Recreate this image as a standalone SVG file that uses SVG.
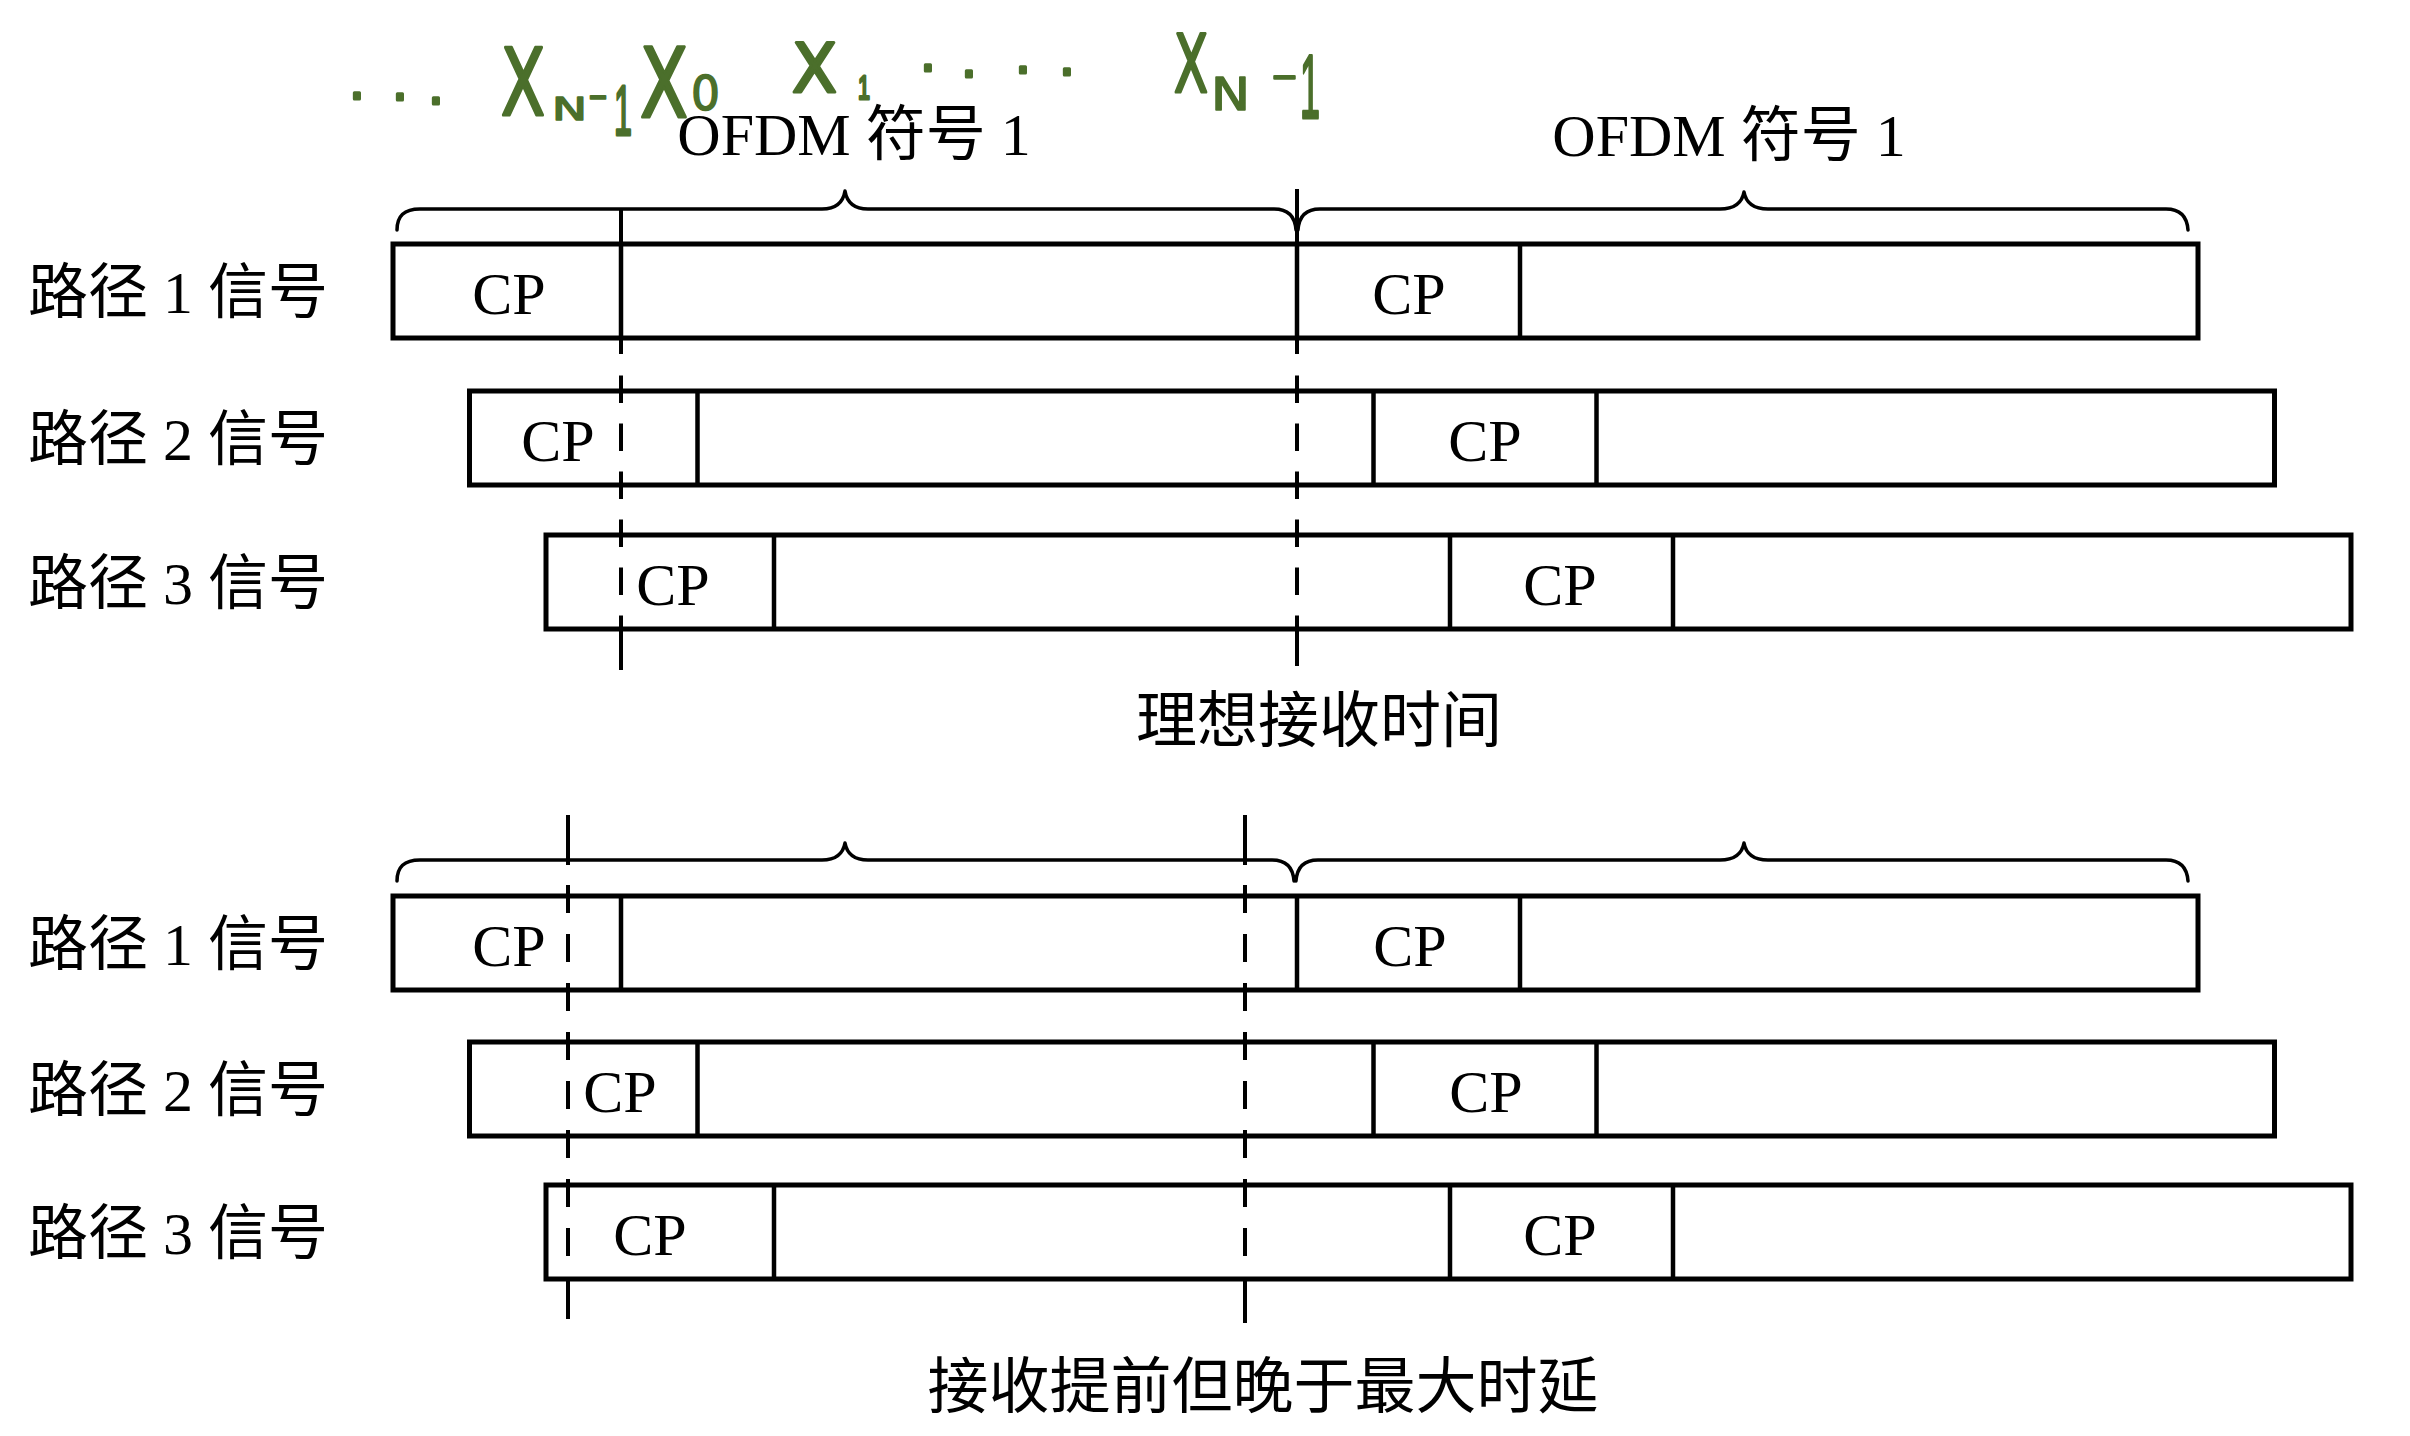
<svg xmlns="http://www.w3.org/2000/svg" width="2410" height="1436" viewBox="0 0 2410 1436">
<style>
.box{fill:none;stroke:#000;stroke-width:5}
.dv{stroke:#000;stroke-width:4.5}
.brace{fill:none;stroke:#000;stroke-width:3.5;stroke-linejoin:round;stroke-linecap:round}
.vl{stroke:#000;stroke-width:4}
.dsh{stroke:#000;stroke-width:4;stroke-dasharray:27.5 20.5}
.dsh2{stroke:#000;stroke-width:4;stroke-dasharray:28 21}
.lbl{font-family:"Liberation Serif","Noto Sans CJK SC",serif;font-size:60px;fill:#000}
.cp{font-family:"Liberation Serif",serif;font-size:60px;text-anchor:middle;fill:#000}
.cap{font-family:"Noto Sans CJK SC",sans-serif;font-size:61px;text-anchor:middle;fill:#000}
.hw{font-family:"DejaVu Sans",sans-serif;fill:#4b6f2b;stroke:#4b6f2b;stroke-width:3;stroke-linejoin:round}
.sm{stroke-width:1.5}
.one{font-family:"Liberation Sans",sans-serif}
</style>
<rect width="2410" height="1436" fill="#fff"/>

<g id="annotation">
<text class="hw" font-size="50"><tspan x="349 392 428" y="99 100 104">...</tspan><tspan x="501" y="115" font-size="92" textLength="44" lengthAdjust="spacingAndGlyphs">X</tspan><tspan class="sm" x="552" y="120" font-size="32" textLength="35" lengthAdjust="spacingAndGlyphs">N</tspan><tspan class="sm" x="588" y="109" font-size="40" textLength="20" lengthAdjust="spacingAndGlyphs">-</tspan><tspan class="one" x="614" y="135" font-size="70" textLength="18" lengthAdjust="spacingAndGlyphs">1</tspan><tspan x="640" y="117" font-size="96" textLength="48" lengthAdjust="spacingAndGlyphs">X</tspan><tspan class="sm" x="691" y="110" font-size="48" textLength="29" lengthAdjust="spacingAndGlyphs">0</tspan><tspan x="792" y="92" font-size="68" textLength="45" lengthAdjust="spacingAndGlyphs">X</tspan><tspan class="one" x="858" y="99" font-size="34" textLength="12" lengthAdjust="spacingAndGlyphs">1</tspan><tspan x="920 961 1015 1059" y="71 77 73 75">....</tspan><tspan x="1174" y="92" font-size="81" textLength="34" lengthAdjust="spacingAndGlyphs">X</tspan><tspan class="sm" x="1211" y="110" font-size="45" textLength="39" lengthAdjust="spacingAndGlyphs">N</tspan><tspan class="sm" x="1271" y="89" font-size="40" textLength="27" lengthAdjust="spacingAndGlyphs">-</tspan><tspan class="one" x="1300" y="118" font-size="90" textLength="20" lengthAdjust="spacingAndGlyphs">1</tspan></text>
</g>

<g id="top-symbol-labels">
<text class="lbl" x="854" y="155" text-anchor="middle">OFDM 符号 1</text>
<text class="lbl" x="1729" y="156" text-anchor="middle">OFDM 符号 1</text>
</g>

<g id="top-braces">
<path class="brace" d="M397,230 C397,216 404,209 420,209 L822,209 C836,209 843,203 845,191 C847,203 854,209 868,209 L1274,209 C1288,209 1295,216 1296,230"/>
<path class="brace" d="M1298,230 C1299,216 1306,209 1320,209 L1720,209 C1735,209 1742,203 1744,192 C1746,203 1753,209 1768,209 L2166,209 C2180,209 2187,216 2188,230"/>
</g>

<g id="top-path1">
<text class="lbl" x="28" y="313">路径 1 信号</text>
<rect class="box" x="393" y="244" width="1805" height="94"/>
<line class="dv" x1="621" y1="244" x2="621" y2="338"/>
<line class="dv" x1="1297" y1="244" x2="1297" y2="338"/>
<line class="dv" x1="1520" y1="244" x2="1520" y2="338"/>
<text class="cp" x="509" y="314">CP</text>
<text class="cp" x="1409" y="314">CP</text>
</g>
<g id="top-path2">
<text class="lbl" x="28" y="460">路径 2 信号</text>
<rect class="box" x="469.5" y="391" width="1805" height="94"/>
<line class="dv" x1="697.5" y1="391" x2="697.5" y2="485"/>
<line class="dv" x1="1373.5" y1="391" x2="1373.5" y2="485"/>
<line class="dv" x1="1596.5" y1="391" x2="1596.5" y2="485"/>
<text class="cp" x="558" y="461">CP</text>
<text class="cp" x="1485" y="461">CP</text>
</g>
<g id="top-path3">
<text class="lbl" x="28" y="604">路径 3 信号</text>
<rect class="box" x="546" y="535" width="1805" height="94"/>
<line class="dv" x1="774" y1="535" x2="774" y2="629"/>
<line class="dv" x1="1450" y1="535" x2="1450" y2="629"/>
<line class="dv" x1="1673" y1="535" x2="1673" y2="629"/>
<text class="cp" x="673" y="605">CP</text>
<text class="cp" x="1560" y="605">CP</text>
</g>

<g id="top-caption">
<text class="cap" x="1319" y="742">理想接收时间</text>
</g>

<g id="bottom-braces">
<path class="brace" d="M397,881 C397,867 404,860 420,860 L822,860 C836,860 843,854 845,843 C847,854 854,860 868,860 L1272,860 C1286,860 1293,867 1294,881"/>
<path class="brace" d="M1296,881 C1297,867 1304,860 1318,860 L1720,860 C1735,860 1742,854 1744,843 C1746,854 1753,860 1768,860 L2166,860 C2180,860 2187,867 2188,881"/>
</g>

<g id="bottom-path1">
<text class="lbl" x="28" y="965">路径 1 信号</text>
<rect class="box" x="393" y="896" width="1805" height="94"/>
<line class="dv" x1="621" y1="896" x2="621" y2="990"/>
<line class="dv" x1="1297" y1="896" x2="1297" y2="990"/>
<line class="dv" x1="1520" y1="896" x2="1520" y2="990"/>
<text class="cp" x="509" y="966">CP</text>
<text class="cp" x="1410" y="966">CP</text>
</g>
<g id="bottom-path2">
<text class="lbl" x="28" y="1111">路径 2 信号</text>
<rect class="box" x="469.5" y="1042" width="1805" height="94"/>
<line class="dv" x1="697.5" y1="1042" x2="697.5" y2="1136"/>
<line class="dv" x1="1373.5" y1="1042" x2="1373.5" y2="1136"/>
<line class="dv" x1="1596.5" y1="1042" x2="1596.5" y2="1136"/>
<text class="cp" x="620" y="1112">CP</text>
<text class="cp" x="1486" y="1112">CP</text>
</g>
<g id="bottom-path3">
<text class="lbl" x="28" y="1254">路径 3 信号</text>
<rect class="box" x="546" y="1185" width="1805" height="94"/>
<line class="dv" x1="774" y1="1185" x2="774" y2="1279"/>
<line class="dv" x1="1450" y1="1185" x2="1450" y2="1279"/>
<line class="dv" x1="1673" y1="1185" x2="1673" y2="1279"/>
<text class="cp" x="650" y="1255">CP</text>
<text class="cp" x="1560" y="1255">CP</text>
</g>

<g id="bottom-caption">
<text class="cap" x="1263" y="1408">接收提前但晚于最大时延</text>
</g>

<g id="connectors">
<line class="vl" x1="621" y1="209" x2="621" y2="354"/>
<line class="dsh" x1="621" y1="375.5" x2="621" y2="615.5"/>
<line class="vl" x1="621" y1="615.5" x2="621" y2="670"/>
<line class="vl" x1="1297" y1="189" x2="1297" y2="354"/>
<line class="dsh" x1="1297" y1="375.5" x2="1297" y2="615.5"/>
<line class="vl" x1="1297" y1="615.5" x2="1297" y2="666"/>
<line class="vl" x1="568" y1="815" x2="568" y2="865"/>
<line class="dsh2" x1="568" y1="885" x2="568" y2="1277"/>
<line class="vl" x1="568" y1="1277" x2="568" y2="1319"/>
<line class="vl" x1="1245" y1="815" x2="1245" y2="865"/>
<line class="dsh2" x1="1245" y1="885" x2="1245" y2="1277"/>
<line class="vl" x1="1245" y1="1277" x2="1245" y2="1323"/>
</g>
</svg>
